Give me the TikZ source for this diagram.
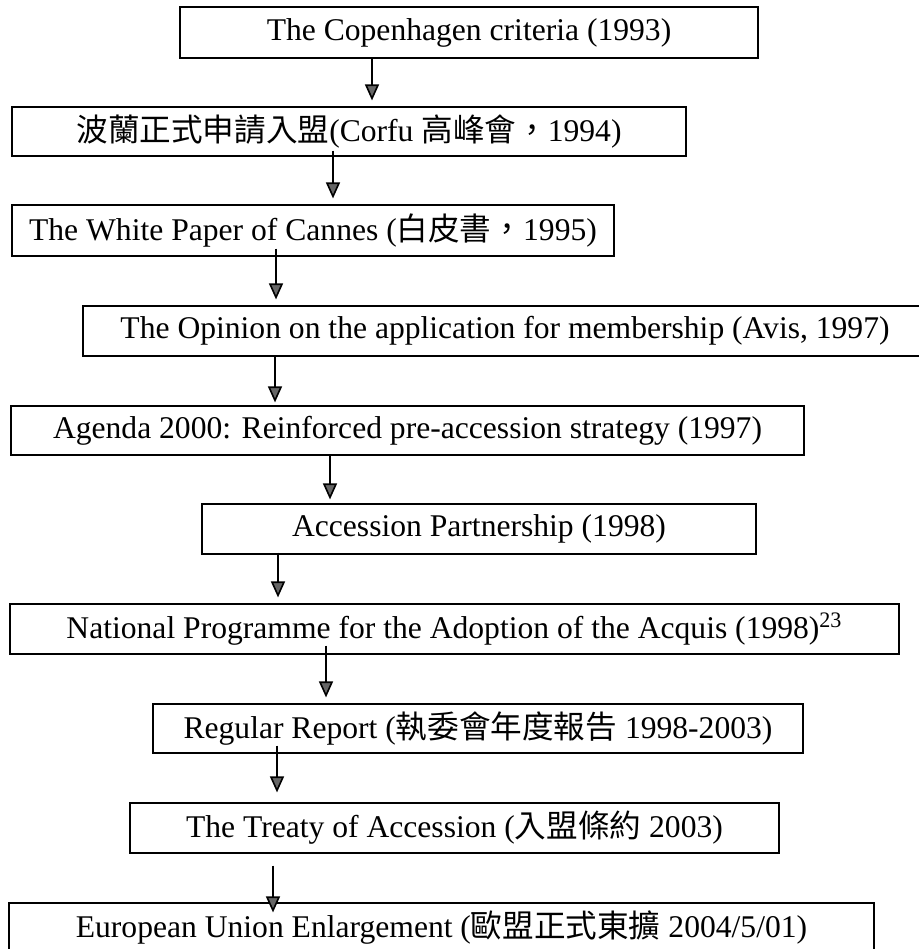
\documentclass[tikz,border=0pt]{standalone}
\usepackage{fontspec}
\setmainfont{Liberation Serif}
\newfontfamily\cjk{Noto Sans CJK TC}
\usetikzlibrary{arrows.meta}

\tikzset{
  stagebox/.style={draw, line width=0.6pt, inner sep=0pt, align=center,
    font=\fontsize{15.8}{18}\selectfont},
  flow/.style={line width=0.8pt, shorten >=3pt,
    -{Triangle[width=7pt,length=8pt,fill=black!60]}}
}

\begin{document}
\begin{tikzpicture}[x=0.5pt,y=0.5pt,yscale=-1,xscale=1]
\useasboundingbox (0,0) rectangle (918,949);

%Stages
\node[stagebox, minimum width=289pt, minimum height=25.5pt] (c1) at (469,32.5) {The Copenhagen criteria (1993)};
\node[stagebox, minimum width=337pt, minimum height=24.5pt] (c2) at (349,131.5) {{\cjk 波蘭正式申請入盟}(Corfu {\cjk 高峰會，}1994)};
\node[stagebox, minimum width=301pt, minimum height=25.5pt] (c3) at (313,230.5) {The White Paper of Cannes ({\cjk 白皮書，}1995)};
\node[stagebox, minimum width=422pt, minimum height=25pt] (c4) at (505,331) {The Opinion on the application for membership (Avis, 1997)};
\node[stagebox, minimum width=396.5pt, minimum height=24.5pt] (c5) at (407.5,430.5) {Agenda 2000: Reinforced pre-accession strategy (1997)};
\node[stagebox, minimum width=277pt, minimum height=25pt] (c6) at (479,529) {Accession Partnership (1998)};
\node[stagebox, minimum width=444.5pt, minimum height=25pt] (c7) at (454.5,629) {National Programme for the Adoption of the Acquis (1998)\textsuperscript{23}};
\node[stagebox, minimum width=325pt, minimum height=24.5pt] (c8) at (478,728.5) {Regular Report ({\cjk 執委會年度報告} 1998-2003)};
\node[stagebox, minimum width=324.5pt, minimum height=25pt] (c9) at (454.5,828) {The Treaty of Accession ({\cjk 入盟條約} 2003)};
\node[stagebox, minimum width=432.5pt, minimum height=25pt] (c10) at (441.5,928) {European Union Enlargement ({\cjk 歐盟正式東擴} 2004/5/01)};

%Arrows
\draw[flow] (c1.south -| 372,0) -- (c2.north -| 372,0);
\draw[flow, shorten <=-3pt] (c2.south -| 333,0) -- (c3.north -| 333,0);
\draw[flow, shorten <=-4pt] (c3.south -| 276,0) -- (c4.north -| 276,0);
\draw[flow, shorten >=1.5pt] (c4.south -| 275,0) -- (c5.north -| 275,0);
\draw[flow, shorten >=2pt] (c5.south -| 330,0) -- (c6.north -| 330,0);
\draw[flow, shorten <=-1pt] (c6.south -| 278,0) -- (c7.north -| 278,0);
\draw[flow, shorten <=-4.5pt] (c7.south -| 326,0) -- (c8.north -| 326,0);
\draw[flow, shorten <=-4pt, shorten >=5pt] (c8.south -| 277,0) -- (c9.north -| 277,0);
\draw[flow, shorten <=6pt, shorten >=-5pt] (c9.south -| 273,0) -- (c10.north -| 273,0);

\end{tikzpicture}
\end{document}
